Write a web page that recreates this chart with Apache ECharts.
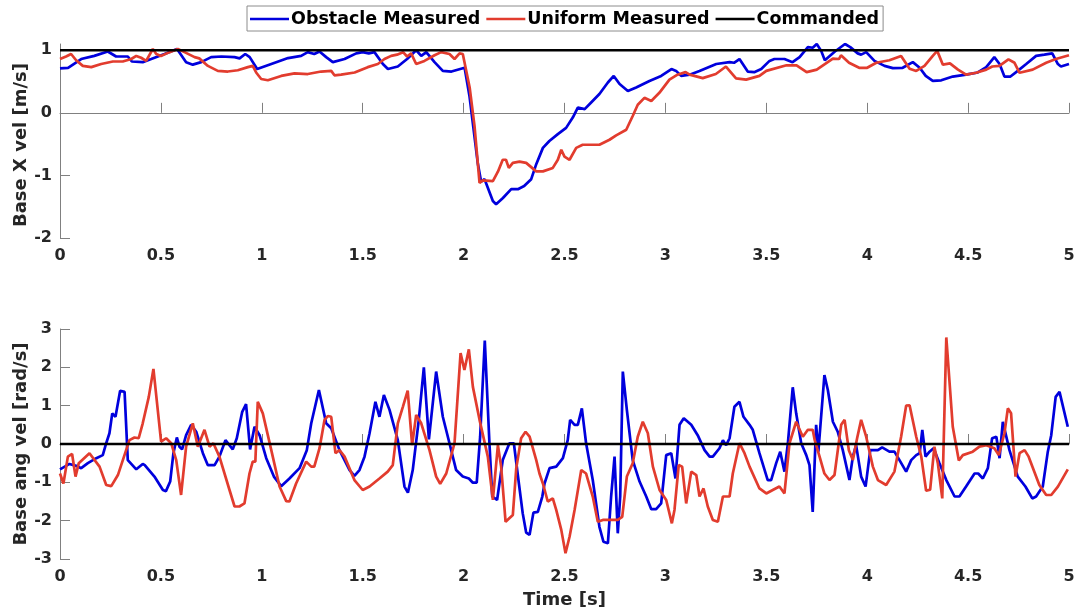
<!DOCTYPE html>
<html>
<head>
<meta charset="utf-8">
<script src="https://cdn.jsdelivr.net/npm/echarts@6/dist/echarts.min.js"></script>
<style>html,body{margin:0;padding:0;background:#fff}#c{width:1080px;height:612px}</style>
</head>
<body>
<div id="c"></div>
<script>
// ---- data (time [s], value) ----
const seriesNames = ['Obstacle Measured', 'Uniform Measured', 'Commanded'];
const xTicks = [0, 0.5, 1, 1.5, 2, 2.5, 3, 3.5, 4, 4.5, 5];
const velTicks = [-2, -1, 0, 1];
const angTicks = [-3, -2, -1, 0, 1, 2, 3];
const commandedVel = [[0, 1], [5, 1]];
const commandedAng = [[0, 0], [5, 0]];

const obstacleVel = [[0,0.71],[0.04,0.72],[0.105,0.86],[0.17,0.91],[0.237,0.98],[0.278,0.90],[0.336,0.90],[0.356,0.82],[0.41,0.81],[0.452,0.86],[0.518,0.94],[0.58,1.02],[0.625,0.81],[0.658,0.77],[0.70,0.81],[0.749,0.89],[0.80,0.90],[0.865,0.89],[0.89,0.87],[0.918,0.94],[0.94,0.89],[0.977,0.70],[1.047,0.78],[1.13,0.875],[1.195,0.91],[1.228,0.97],[1.26,0.94],[1.286,0.98],[1.319,0.89],[1.352,0.81],[1.41,0.86],[1.468,0.95],[1.50,0.97],[1.53,0.95],[1.558,0.97],[1.60,0.78],[1.625,0.70],[1.674,0.74],[1.72,0.86],[1.765,1.00],[1.79,0.91],[1.815,0.97],[1.856,0.81],[1.897,0.67],[1.94,0.66],[2.005,0.72],[2.029,0.27],[2.07,-0.80],[2.087,-1.10],[2.104,-1.06],[2.145,-1.41],[2.161,-1.46],[2.195,-1.36],[2.236,-1.22],[2.269,-1.22],[2.30,-1.17],[2.335,-1.06],[2.36,-0.82],[2.393,-0.56],[2.425,-0.45],[2.467,-0.34],[2.508,-0.24],[2.541,-0.075],[2.566,0.085],[2.60,0.06],[2.632,0.165],[2.673,0.30],[2.715,0.485],[2.744,0.59],[2.773,0.46],[2.814,0.35],[2.855,0.405],[2.921,0.51],[2.979,0.59],[3.03,0.70],[3.053,0.67],[3.078,0.59],[3.12,0.61],[3.169,0.67],[3.252,0.78],[3.318,0.81],[3.34,0.80],[3.367,0.86],[3.408,0.66],[3.44,0.65],[3.475,0.70],[3.516,0.83],[3.54,0.86],[3.59,0.86],[3.63,0.81],[3.665,0.89],[3.706,1.05],[3.73,1.04],[3.75,1.10],[3.772,0.99],[3.79,0.84],[3.84,0.98],[3.89,1.10],[3.916,1.05],[3.953,0.95],[3.97,0.93],[3.995,0.97],[4.036,0.83],[4.086,0.75],[4.127,0.715],[4.176,0.72],[4.226,0.81],[4.26,0.72],[4.29,0.59],[4.325,0.51],[4.367,0.52],[4.424,0.58],[4.49,0.61],[4.548,0.645],[4.59,0.73],[4.63,0.89],[4.656,0.78],[4.68,0.58],[4.71,0.58],[4.746,0.67],[4.788,0.78],[4.837,0.91],[4.878,0.93],[4.917,0.95],[4.945,0.78],[4.96,0.74],[5.0,0.78]];

const uniformVel = [[0,0.86],[0.03,0.90],[0.055,0.94],[0.08,0.84],[0.113,0.75],[0.155,0.73],[0.204,0.78],[0.262,0.82],[0.311,0.82],[0.353,0.86],[0.378,0.91],[0.402,0.88],[0.427,0.83],[0.46,1.02],[0.477,0.94],[0.50,0.91],[0.543,0.97],[0.584,1.02],[0.617,0.97],[0.667,0.89],[0.69,0.87],[0.733,0.75],[0.782,0.67],[0.832,0.66],[0.881,0.68],[0.931,0.73],[0.955,0.75],[0.972,0.645],[0.997,0.54],[1.03,0.52],[1.096,0.59],[1.162,0.63],[1.228,0.62],[1.294,0.66],[1.344,0.67],[1.36,0.60],[1.393,0.61],[1.46,0.645],[1.525,0.73],[1.575,0.78],[1.608,0.86],[1.641,0.91],[1.67,0.93],[1.70,0.97],[1.72,0.90],[1.74,0.95],[1.765,0.78],[1.806,0.83],[1.856,0.92],[1.889,0.97],[1.93,0.94],[1.955,0.86],[1.98,0.95],[1.996,0.94],[2.03,0.405],[2.054,-0.21],[2.079,-1.12],[2.095,-1.08],[2.145,-1.09],[2.17,-0.94],[2.194,-0.75],[2.21,-0.75],[2.224,-0.88],[2.244,-0.80],[2.277,-0.78],[2.31,-0.80],[2.36,-0.935],[2.393,-0.935],[2.442,-0.88],[2.467,-0.75],[2.484,-0.59],[2.50,-0.70],[2.525,-0.75],[2.558,-0.56],[2.59,-0.51],[2.673,-0.51],[2.723,-0.43],[2.756,-0.36],[2.806,-0.27],[2.838,-0.05],[2.863,0.13],[2.896,0.24],[2.93,0.19],[2.97,0.32],[3.02,0.53],[3.06,0.61],[3.10,0.65],[3.12,0.61],[3.185,0.555],[3.25,0.62],[3.30,0.74],[3.35,0.55],[3.40,0.53],[3.466,0.59],[3.50,0.67],[3.60,0.76],[3.65,0.76],[3.70,0.65],[3.75,0.69],[3.83,0.865],[3.86,0.86],[3.87,0.92],[3.91,0.80],[3.96,0.72],[4.0,0.72],[4.045,0.80],[4.11,0.84],[4.168,0.91],[4.21,0.705],[4.243,0.67],[4.284,0.75],[4.325,0.91],[4.347,0.99],[4.375,0.77],[4.41,0.79],[4.45,0.69],[4.49,0.61],[4.54,0.64],[4.59,0.69],[4.62,0.74],[4.655,0.75],[4.70,0.855],[4.73,0.80],[4.755,0.64],[4.82,0.69],[4.887,0.80],[4.935,0.86],[5.0,0.92]];

const obstacleAng = [[0,-0.66],[0.047,-0.52],[0.08,-0.57],[0.105,-0.63],[0.138,-0.50],[0.18,-0.37],[0.212,-0.29],[0.229,0.02],[0.245,0.28],[0.259,0.80],[0.275,0.71],[0.298,1.39],[0.32,1.36],[0.336,-0.42],[0.378,-0.66],[0.41,-0.52],[0.42,-0.55],[0.468,-0.85],[0.51,-1.20],[0.525,-1.23],[0.546,-0.98],[0.562,-0.24],[0.579,0.17],[0.592,-0.07],[0.605,-0.14],[0.625,0.23],[0.65,0.50],[0.675,0.32],[0.708,-0.24],[0.732,-0.55],[0.766,-0.55],[0.79,-0.33],[0.82,0.10],[0.856,-0.14],[0.876,0.15],[0.903,0.84],[0.922,1.04],[0.942,-0.14],[0.964,0.45],[0.989,0.23],[1.022,-0.37],[1.06,-0.85],[1.096,-1.10],[1.137,-0.90],[1.187,-0.63],[1.223,-0.16],[1.245,0.54],[1.283,1.41],[1.319,0.54],[1.344,0.41],[1.385,-0.16],[1.435,-0.68],[1.459,-0.83],[1.484,-0.68],[1.509,-0.33],[1.534,0.28],[1.563,1.10],[1.583,0.71],[1.605,1.28],[1.633,0.89],[1.674,0.10],[1.707,-1.11],[1.724,-1.27],[1.748,-0.68],[1.778,0.63],[1.803,2.00],[1.828,0.12],[1.864,1.89],[1.897,0.71],[1.93,0.02],[1.963,-0.68],[1.996,-0.85],[2.026,-0.90],[2.046,-1.01],[2.065,-1.01],[2.082,0.19],[2.105,2.70],[2.128,0.02],[2.142,-1.37],[2.166,-1.46],[2.194,-0.42],[2.227,0.02],[2.249,0.02],[2.274,-1.03],[2.293,-1.81],[2.31,-2.31],[2.327,-2.37],[2.346,-1.79],[2.368,-1.77],[2.39,-1.37],[2.401,-1.03],[2.426,-0.63],[2.459,-0.59],[2.492,-0.37],[2.516,0.10],[2.528,0.63],[2.55,0.50],[2.566,0.50],[2.586,0.93],[2.607,0.02],[2.64,-0.94],[2.673,-2.16],[2.693,-2.55],[2.715,-2.59],[2.731,-1.37],[2.748,-0.33],[2.764,-2.33],[2.776,-1.37],[2.789,1.89],[2.809,0.89],[2.838,-0.42],[2.872,-0.98],[2.905,-1.37],[2.93,-1.70],[2.954,-1.70],[2.979,-1.55],[3.004,-0.29],[3.029,-0.24],[3.05,-0.90],[3.07,0.50],[3.091,0.67],[3.128,0.50],[3.16,0.23],[3.194,-0.16],[3.219,-0.33],[3.235,-0.33],[3.268,-0.11],[3.285,0.10],[3.301,-0.03],[3.318,0.15],[3.342,0.97],[3.367,1.10],[3.387,0.71],[3.417,0.50],[3.433,0.37],[3.466,-0.24],[3.507,-0.94],[3.524,-0.94],[3.549,-0.50],[3.569,-0.20],[3.59,-0.72],[3.607,0.02],[3.631,1.48],[3.648,0.80],[3.673,0.02],[3.698,-0.29],[3.714,-0.55],[3.73,-1.77],[3.747,0.50],[3.758,-0.20],[3.788,1.80],[3.805,1.41],[3.83,0.58],[3.854,0.32],[3.879,-0.16],[3.912,-0.94],[3.929,-0.33],[3.945,-0.03],[3.97,-0.85],[3.992,-1.11],[4.015,-0.16],[4.053,-0.16],[4.074,-0.09],[4.11,-0.20],[4.135,-0.20],[4.16,-0.42],[4.193,-0.72],[4.218,-0.42],[4.243,-0.29],[4.26,-0.24],[4.273,0.37],[4.289,-0.33],[4.309,-0.20],[4.329,-0.11],[4.358,-0.50],[4.392,-0.94],[4.433,-1.37],[4.457,-1.37],[4.49,-1.11],[4.532,-0.77],[4.55,-0.77],[4.573,-0.90],[4.598,-0.63],[4.619,0.15],[4.64,0.19],[4.656,-0.37],[4.672,0.58],[4.705,-0.16],[4.746,-0.85],[4.784,-1.11],[4.818,-1.42],[4.837,-1.37],[4.87,-1.11],[4.895,-0.20],[4.912,0.23],[4.934,1.23],[4.953,1.36],[4.994,0.45]];

const uniformAng = [[0,-0.77],[0.017,-1.03],[0.039,-0.33],[0.06,-0.26],[0.077,-0.85],[0.093,-0.50],[0.146,-0.24],[0.196,-0.59],[0.229,-1.07],[0.254,-1.10],[0.287,-0.81],[0.344,0.10],[0.369,0.17],[0.39,0.15],[0.41,0.54],[0.44,1.23],[0.463,1.96],[0.501,0.06],[0.526,0.15],[0.551,0.02],[0.576,-0.42],[0.60,-1.33],[0.625,-0.07],[0.658,0.54],[0.683,-0.07],[0.716,0.37],[0.741,-0.07],[0.76,0.02],[0.79,-0.33],[0.84,-1.20],[0.865,-1.63],[0.889,-1.63],[0.914,-1.55],[0.939,-0.77],[0.955,-0.46],[0.968,-0.46],[0.98,1.10],[1.005,0.80],[1.047,-0.16],[1.088,-1.11],[1.121,-1.49],[1.137,-1.50],[1.17,-1.03],[1.22,-0.46],[1.245,-0.59],[1.26,-0.59],[1.286,-0.11],[1.311,0.63],[1.327,0.73],[1.344,0.71],[1.365,-0.24],[1.385,-0.16],[1.41,-0.33],[1.459,-0.94],[1.50,-1.20],[1.534,-1.11],[1.583,-0.90],[1.624,-0.72],[1.649,-0.55],[1.674,0.54],[1.699,0.97],[1.723,1.39],[1.745,-0.03],[1.765,0.76],[1.79,0.54],[1.831,-0.16],[1.864,-0.85],[1.884,-1.04],[1.914,-0.77],[1.955,0.02],[1.985,2.37],[2.004,1.93],[2.026,2.47],[2.046,1.49],[2.079,0.63],[2.12,-0.33],[2.145,-1.46],[2.17,-0.03],[2.186,-0.59],[2.208,-2.03],[2.244,-1.85],[2.261,-0.63],[2.285,0.15],[2.307,0.32],[2.327,0.19],[2.36,-0.42],[2.376,-0.77],[2.393,-1.03],[2.417,-1.50],[2.442,-1.42],[2.459,-1.72],[2.484,-2.24],[2.505,-2.85],[2.525,-2.42],[2.55,-1.72],[2.583,-0.68],[2.607,-0.77],[2.64,-1.37],[2.665,-2.03],[2.69,-1.98],[2.764,-1.98],[2.786,-1.90],[2.809,-0.85],[2.838,-0.50],[2.863,0.19],[2.888,0.58],[2.913,0.28],[2.938,-0.59],[2.971,-1.20],[3.004,-1.46],[3.032,-2.07],[3.045,-1.72],[3.066,-0.55],[3.083,-0.59],[3.103,-1.55],[3.128,-0.72],[3.153,-0.81],[3.169,-1.37],[3.189,-1.16],[3.21,-1.63],[3.235,-1.98],[3.26,-2.03],[3.285,-1.37],[3.318,-1.37],[3.334,-0.77],[3.367,0.02],[3.392,-0.24],[3.417,-0.59],[3.466,-1.16],[3.50,-1.29],[3.532,-1.20],[3.565,-1.11],[3.59,-1.29],[3.615,0.02],[3.648,0.58],[3.681,0.19],[3.706,0.37],[3.73,0.37],[3.74,0.10],[3.764,-0.33],[3.788,-0.77],[3.813,-0.94],[3.838,-0.81],[3.871,0.50],[3.888,0.63],[3.909,-0.16],[3.929,-0.42],[3.95,0.15],[3.97,0.63],[3.995,0.19],[4.028,-0.59],[4.053,-0.94],[4.094,-1.07],[4.135,-0.72],[4.168,0.19],[4.193,1.00],[4.21,1.01],[4.243,0.19],[4.268,-0.33],[4.292,-1.22],[4.312,-1.19],[4.333,-0.07],[4.35,-0.50],[4.372,-1.42],[4.392,2.78],[4.424,0.45],[4.454,-0.43],[4.474,-0.29],[4.523,-0.20],[4.556,-0.07],[4.59,-0.03],[4.63,-0.11],[4.652,-0.29],[4.68,0.28],[4.697,0.93],[4.713,0.80],[4.735,-0.85],[4.755,-0.24],[4.78,-0.16],[4.80,-0.33],[4.853,-1.07],[4.887,-1.33],[4.912,-1.33],[4.945,-1.11],[4.994,-0.66]];

// ---- styling ----
const FONT = 'DejaVu Sans';
const TXT = '#262626';
const AXC = '#808080';
const colors = ['#0000dd', '#e23c2e', '#000000'];
const labelStyle = {fontFamily: FONT, fontWeight: 'bold', fontSize: 16, color: TXT};
const nameStyle = {fontFamily: FONT, fontWeight: 'bold', fontSize: 18, color: TXT};

function xAxis(gridIndex, name) {
  return {
    type: 'value', gridIndex, min: 0, max: 5, interval: 0.5,
    name: name || '', nameLocation: 'middle', nameGap: 32, nameMoveOverlap: false,
    nameTextStyle: nameStyle,
    axisLine: {show: true, lineStyle: {color: AXC, width: 1}},
    axisTick: {show: true, inside: true, length: 10, lineStyle: {color: AXC}, customValues: xTicks},
    axisLabel: Object.assign({margin: 10, customValues: xTicks}, labelStyle),
    splitLine: {show: false}
  };
}
function yAxis(gridIndex, min, max, ticks, name, namePad) {
  return {
    type: 'value', gridIndex, min, max, interval: 1,
    name, nameLocation: 'middle', nameGap: 30, nameMoveOverlap: false,
    nameTextStyle: Object.assign({padding: namePad}, nameStyle),
    axisLine: {show: true, lineStyle: {color: AXC, width: 1}},
    axisTick: {show: true, inside: true, length: 10, lineStyle: {color: AXC}, customValues: ticks},
    axisLabel: Object.assign({margin: 8, customValues: ticks}, labelStyle),
    splitLine: {show: false}
  };
}
function line(name, data, xi, color) {
  return {
    name, type: 'line', xAxisIndex: xi, yAxisIndex: xi, data,
    showSymbol: false, symbol: 'none', smooth: false, clip: true,
    lineStyle: {color, width: 2.7}, itemStyle: {color},
    emphasis: {disabled: true}
  };
}

const chart = echarts.init(document.getElementById('c'), null, {renderer: 'canvas'});
chart.setOption({
  animation: false,
  backgroundColor: '#ffffff',
  legend: {
    data: seriesNames, left: 247, top: 6,
    icon: 'rect', itemWidth: 39, itemHeight: 2.5, itemGap: 6,
    padding: [4, 4, 3, 3],
    borderColor: '#8c8c8c', borderWidth: 1,
    textStyle: {fontFamily: FONT, fontWeight: 'bold', fontSize: 17.5, color: '#000', padding: [0, 0, 0, -3]}
  },
  grid: [
    {left: 60, top: 44, width: 1009, height: 194, containLabel: false},
    {left: 60, top: 329, width: 1009, height: 230, containLabel: false}
  ],
  xAxis: [xAxis(0), xAxis(1, 'Time [s]')],
  yAxis: [
    yAxis(0, -2, 1.1, velTicks, 'Base X vel [m/s]', [0, 8, 0, 0]),
    yAxis(1, -3, 3, angTicks, 'Base ang vel [rad/s]', [0, 0, 0, 0])
  ],
  series: [
    line(seriesNames[0], obstacleVel, 0, colors[0]),
    line(seriesNames[1], uniformVel, 0, colors[1]),
    line(seriesNames[2], commandedVel, 0, colors[2]),
    line(seriesNames[0], obstacleAng, 1, colors[0]),
    line(seriesNames[1], uniformAng, 1, colors[1]),
    line(seriesNames[2], commandedAng, 1, colors[2])
  ]
});
</script>
</body>
</html>
